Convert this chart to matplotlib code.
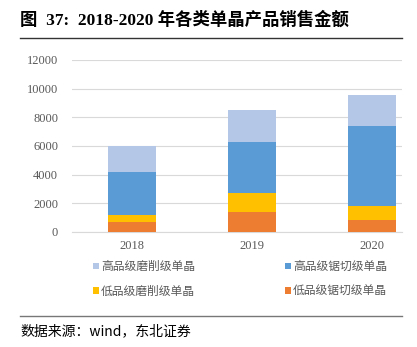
import matplotlib
matplotlib.use("Agg")
import matplotlib.pyplot as plt
from matplotlib.lines import Line2D
import numpy as np

plt.rcParams['font.family'] = ['Liberation Serif', 'Noto Sans CJK SC']

years = ['2018', '2019', '2020']
# stacked from bottom to top
low_saw = [680, 1400, 830]      # 低品级锯切级单晶
low_grind = [490, 1320, 985]    # 低品级磨削级单晶
high_saw = [3020, 3580, 5590]   # 高品级锯切级单晶
high_grind = [1810, 2240, 2150] # 高品级磨削级单晶
yticks = [0, 2000, 4000, 6000, 8000, 10000, 12000]

W, H = 417, 347
fig = plt.figure(figsize=(W/100, H/100), dpi=100)
ax = fig.add_axes([72/W, 1-232/H, 330/W, 172/H])

x = np.arange(len(years))
bw = 0.4
c_low_saw, c_low_grind, c_high_saw, c_high_grind = '#ED7D31', '#FFC000', '#5B9BD5', '#B4C7E7'
b1 = ax.bar(x, low_saw, bw, color=c_low_saw, zorder=3)
bot = np.array(low_saw)
b2 = ax.bar(x, low_grind, bw, bottom=bot, color=c_low_grind, zorder=3)
bot = bot + np.array(low_grind)
b3 = ax.bar(x, high_saw, bw, bottom=bot, color=c_high_saw, zorder=3)
bot = bot + np.array(high_saw)
b4 = ax.bar(x, high_grind, bw, bottom=bot, color=c_high_grind, zorder=3)

ax.set_xlim(-0.5, 2.25)
ax.set_ylim(0, 12000)
ax.set_yticks(yticks)
ax.set_yticklabels([str(v) for v in yticks])
ax.set_xticks(x)
ax.set_xticklabels(years)
ax.grid(axis='y', color='#D9D9D9', linewidth=0.8, zorder=0)
for s in ['top', 'right', 'left']:
    ax.spines[s].set_visible(False)
ax.spines['bottom'].set_color('#D9D9D9')
ax.tick_params(length=0, labelsize=9, colors='#595959')
ax.tick_params(axis='y', pad=10)
ax.tick_params(axis='x', pad=6)

handles = [b4, b2, b3, b1]
labels = ['高品级磨削级单晶', '低品级磨削级单晶', '高品级锯切级单晶', '低品级锯切级单晶']
leg = fig.legend(handles, labels, ncol=2, loc='center', bbox_to_anchor=(240/W, 1-279/H),
                 frameon=False, handlelength=0.5, handleheight=0.5, handletextpad=0.2,
                 columnspacing=7.6, labelspacing=1.0,
                 prop={'family': ['Noto Sans CJK SC'], 'size': 8.5})
for t in leg.get_texts():
    t.set_color('#595959')

fig.text(20/W, 1-20/H, '图  37:  2018-2020 年各类单晶产品销售金额', fontsize=12.5,
         fontweight='bold', va='center', ha='left')
fig.add_artist(Line2D([20/W, 402/W], [1-38/H, 1-38/H], color='#333333', linewidth=1.0))
fig.add_artist(Line2D([20/W, 402/W], [1-316/H, 1-316/H], color='#777777', linewidth=1.0))
fig.text(20/W, 1-331/H, '数据来源：wind，东北证券', fontsize=10, va='center', ha='left',
         family=['Noto Sans CJK SC'])

fig.savefig('out.png', dpi=100)
